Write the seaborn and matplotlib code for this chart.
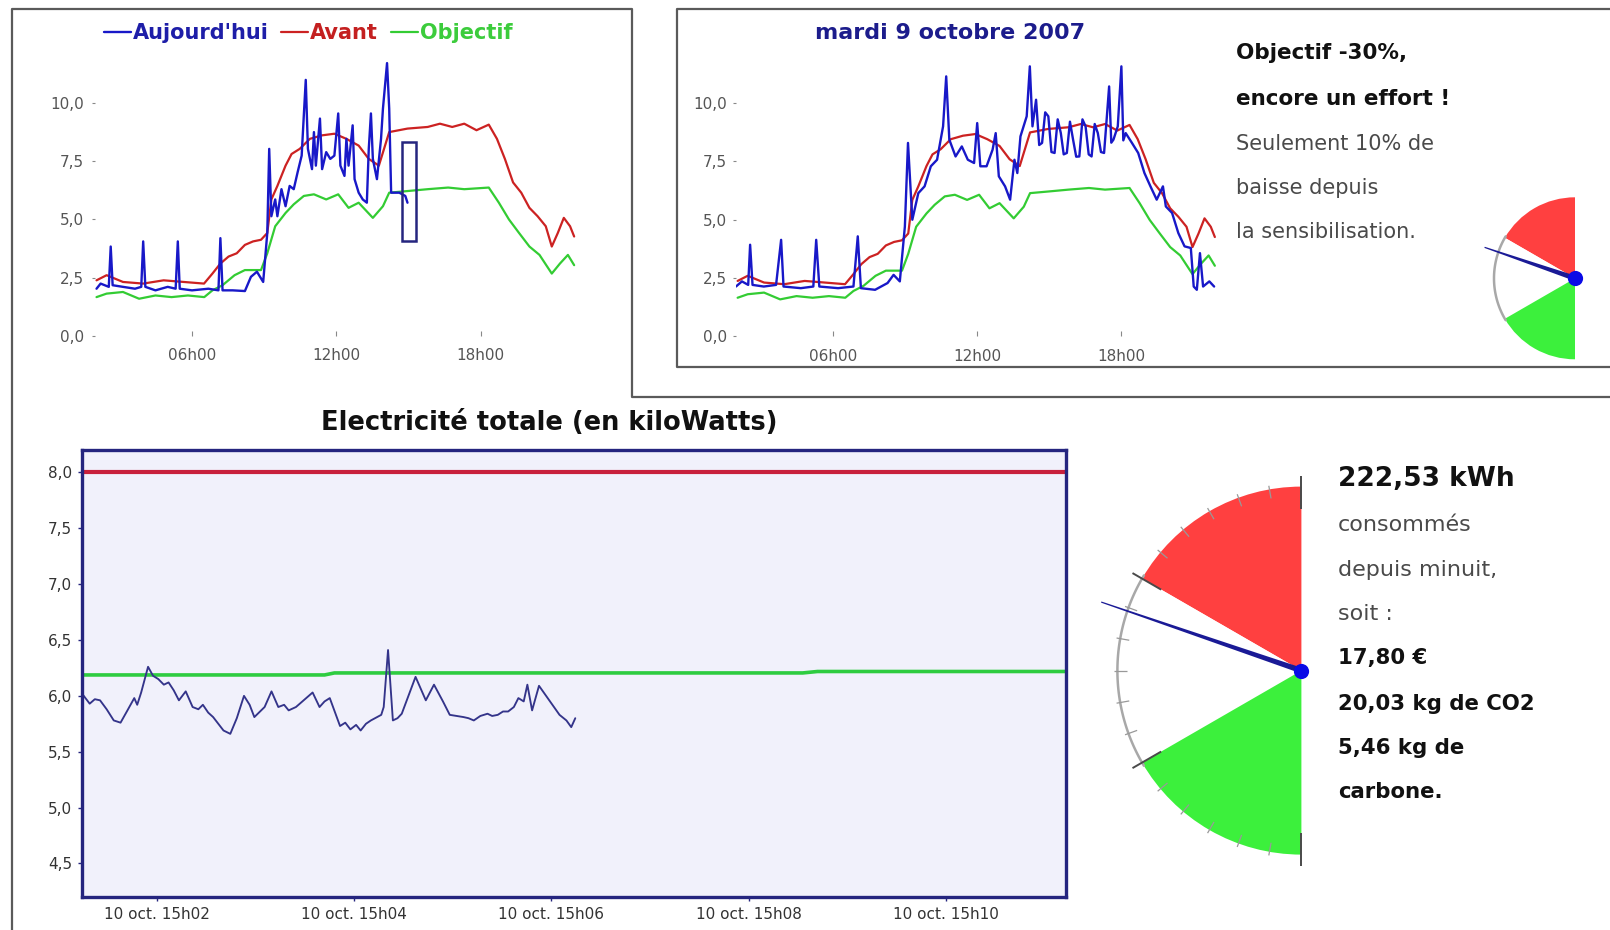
import numpy as np
import matplotlib
matplotlib.use("Agg")
import matplotlib.pyplot as plt
import seaborn as sns
from matplotlib.lines import Line2D
from matplotlib.patches import Rectangle

# ------------------------------------------------------------------ données
avant_heures = [2.03, 2.45, 3.13, 3.97, 4.82, 5.66, 6.50, 6.85, 7.18, 7.52,
                7.86, 8.20, 8.54, 8.87, 9.13, 9.30, 9.55, 9.89, 10.14, 10.48,
                10.90, 11.41, 11.92, 12.42, 12.93, 13.35, 13.77, 14.20, 14.96, 15.80,
                16.31, 16.82, 17.32, 17.83, 18.34, 18.68, 19.01, 19.35, 19.69, 20.03,
                20.37, 20.71, 20.96, 21.21, 21.46, 21.72, 21.89]
avant_kw = [2.38, 2.60, 2.31, 2.24, 2.38, 2.31, 2.24, 2.67, 3.10, 3.40,
            3.54, 3.90, 4.05, 4.12, 4.41, 5.85, 6.43, 7.30, 7.80, 8.02,
            8.45, 8.60, 8.67, 8.45, 8.16, 7.59, 7.30, 8.74, 8.89, 8.96,
            9.10, 8.96, 9.10, 8.82, 9.06, 8.45, 7.59, 6.58, 6.14, 5.49,
            5.13, 4.70, 3.83, 4.41, 5.06, 4.70, 4.26]

objectif_heures = [2.03, 2.45, 3.13, 3.80, 4.48, 5.15, 5.83, 6.51, 6.85, 7.27,
                   7.77, 8.20, 8.62, 8.87, 9.13, 9.46, 9.89, 10.23, 10.65, 11.07,
                   11.58, 12.08, 12.51, 12.93, 13.52, 13.94, 14.20, 14.96, 15.80, 16.65,
                   17.32, 18.34, 18.76, 19.18, 19.60, 20.03, 20.45, 20.96, 21.30, 21.63,
                   21.89]
objectif_kw = [1.66, 1.81, 1.88, 1.59, 1.73, 1.66, 1.73, 1.66, 1.95, 2.17,
               2.60, 2.82, 2.82, 2.82, 3.54, 4.70, 5.27, 5.64, 6.00, 6.07,
               5.85, 6.07, 5.49, 5.71, 5.06, 5.56, 6.14, 6.21, 6.29, 6.36,
               6.29, 6.36, 5.71, 4.99, 4.41, 3.83, 3.47, 2.67, 3.10, 3.47,
               3.03]

aujourdhui_heures = [2.03, 2.20, 2.54, 2.62, 2.70, 3.13, 3.63, 3.89, 3.97, 4.06,
                     4.48, 4.99, 5.32, 5.41, 5.49, 6.00, 6.68, 7.10, 7.18, 7.27,
                     7.69, 8.20, 8.45, 8.70, 8.96, 9.13, 9.21, 9.30, 9.46, 9.55,
                     9.72, 9.89, 10.06, 10.23, 10.39, 10.56, 10.65, 10.73, 10.82, 10.99,
                     11.07, 11.15, 11.32, 11.41, 11.58, 11.75, 11.92, 12.08, 12.17, 12.34,
                     12.42, 12.51, 12.68, 12.76, 12.93, 13.10, 13.27, 13.35, 13.44, 13.52,
                     13.69, 13.86, 13.94, 14.11, 14.20, 14.28, 14.62, 14.87, 14.96]
aujourdhui_kw = [2.02, 2.24, 2.10, 3.83, 2.17, 2.10, 2.02, 2.10, 4.05, 2.10,
                 1.95, 2.10, 2.02, 4.05, 2.02, 1.95, 2.02, 1.95, 4.19, 1.95,
                 1.95, 1.92, 2.53, 2.75, 2.31, 4.41, 8.02, 5.13, 5.85, 5.13,
                 6.29, 5.56, 6.43, 6.29, 7.01, 7.73, 9.47, 10.98, 8.02, 7.15,
                 8.74, 7.30, 9.32, 7.15, 7.88, 7.59, 7.73, 9.54, 7.30, 6.86,
                 8.45, 7.30, 9.03, 6.72, 6.14, 5.85, 5.71, 8.02, 9.54, 7.59,
                 6.72, 8.45, 9.75, 11.70, 9.75, 6.14, 6.14, 6.00, 5.71]

mardi_heures = [1.96, 2.21, 2.47, 2.55, 2.65, 3.12, 3.63, 3.84, 3.94, 4.66,
                5.18, 5.30, 5.43, 6.21, 6.85, 7.03, 7.16, 7.75, 8.27, 8.52,
                8.78, 8.99, 9.12, 9.30, 9.55, 9.81, 10.07, 10.33, 10.58, 10.71,
                10.84, 11.10, 11.36, 11.61, 11.87, 12.00, 12.13, 12.39, 12.64, 12.77,
                12.90, 13.16, 13.37, 13.55, 13.67, 13.80, 14.06, 14.19, 14.30, 14.45,
                14.58, 14.70, 14.83, 14.96, 15.09, 15.22, 15.35, 15.48, 15.60, 15.73,
                15.86, 15.99, 16.12, 16.25, 16.38, 16.51, 16.64, 16.76, 16.89, 17.02,
                17.15, 17.28, 17.38, 17.49, 17.58, 17.67, 17.85, 18.00, 18.08, 18.18,
                18.44, 18.70, 18.96, 19.21, 19.47, 19.73, 19.85, 20.11, 20.37, 20.63,
                20.89, 21.01, 21.14, 21.27, 21.40, 21.66, 21.86]
mardi_kw = [2.14, 2.36, 2.21, 3.93, 2.21, 2.14, 2.21, 4.14, 2.14, 2.07,
            2.14, 4.14, 2.14, 2.07, 2.14, 4.29, 2.07, 2.00, 2.29, 2.64,
            2.36, 4.71, 8.29, 5.00, 6.14, 6.43, 7.29, 7.57, 9.00, 11.14,
            8.43, 7.71, 8.14, 7.57, 7.43, 9.14, 7.29, 7.29, 8.00, 8.71,
            6.86, 6.43, 5.86, 7.57, 7.00, 8.57, 9.43, 11.57, 9.00, 10.14,
            8.20, 8.29, 9.60, 9.43, 7.90, 7.86, 9.30, 8.71, 7.80, 7.86,
            9.20, 8.43, 7.70, 7.71, 9.30, 9.00, 7.80, 7.71, 9.10, 8.71,
            7.90, 7.86, 9.20, 10.71, 8.30, 8.43, 9.00, 11.57, 8.40, 8.71,
            8.29, 7.86, 7.00, 6.43, 5.86, 6.43, 5.57, 5.29, 4.43, 3.86,
            3.79, 2.14, 2.00, 3.57, 2.14, 2.36, 2.14]

fenetre_heures = [14.73, 15.33]
fenetre_kw = [4.05, 8.30]

# zoom : minutes après 15h00 le 10 octobre
zoom_minutes = [1.249, 1.318, 1.37, 1.423, 1.49, 1.562, 1.631, 1.701, 1.770, 1.80,
                1.840, 1.910, 1.96, 2.014, 2.07, 2.118, 2.17, 2.223, 2.292, 2.362,
                2.42, 2.466, 2.52, 2.570, 2.675, 2.744, 2.81, 2.883, 2.94, 2.988,
                3.092, 3.162, 3.231, 3.29, 3.336, 3.41, 3.475, 3.579, 3.649, 3.70,
                3.753, 3.857, 3.91, 3.962, 4.02, 4.066, 4.12, 4.170, 4.275, 4.30,
                4.344, 4.393, 4.44, 4.483, 4.623, 4.727, 4.810, 4.901, 4.970, 5.04,
                5.110, 5.16, 5.214, 5.28, 5.353, 5.40, 5.457, 5.51, 5.562, 5.62,
                5.666, 5.72, 5.757, 5.805, 5.875, 5.979, 6.083, 6.153, 6.202, 6.243]
zoom_kw = [6.01, 5.93, 5.97, 5.96, 5.88, 5.78, 5.76, 5.87, 5.98, 5.92,
           6.03, 6.26, 6.18, 6.15, 6.10, 6.12, 6.05, 5.96, 6.04, 5.90,
           5.88, 5.92, 5.85, 5.81, 5.69, 5.66, 5.80, 6.00, 5.92, 5.81,
           5.90, 6.04, 5.90, 5.92, 5.87, 5.90, 5.95, 6.03, 5.90, 5.95,
           5.98, 5.73, 5.76, 5.70, 5.74, 5.69, 5.75, 5.78, 5.83, 5.90,
           6.41, 5.78, 5.80, 5.84, 6.17, 5.96, 6.10, 5.95, 5.83, 5.82,
           5.81, 5.80, 5.78, 5.82, 5.84, 5.82, 5.83, 5.86, 5.86, 5.90,
           5.98, 5.95, 6.10, 5.87, 6.09, 5.96, 5.83, 5.78, 5.72, 5.80]
zoom_avant_minutes = [1.24, 11.22]
zoom_avant_kw = [8.0, 8.0]
zoom_objectif_minutes = [1.24, 3.70, 3.80, 8.55, 8.70, 11.22]
zoom_objectif_kw = [6.187, 6.187, 6.205, 6.205, 6.218, 6.218]

heure_ticks = [6, 12, 18]
heure_labels = ["06h00", "12h00", "18h00"]
kw_ticks = [0, 2.5, 5, 7.5, 10]
kw_labels = ["0,0", "2,5", "5,0", "7,5", "10,0"]
minute_ticks = [2, 4, 6, 8, 10]
minute_labels = ["10 oct. 15h02", "10 oct. 15h04", "10 oct. 15h06",
                 "10 oct. 15h08", "10 oct. 15h10"]
zoom_kw_ticks = [4.5, 5.0, 5.5, 6.0, 6.5, 7.0, 7.5, 8.0]
zoom_kw_labels = ["4,5", "5,0", "5,5", "6,0", "6,5", "7,0", "7,5", "8,0"]

series_labels = ["Aujourd'hui", "Avant", "Objectif"]
titre_jour = "mardi 9 octobre 2007"
titre_zoom = "Electricité totale (en kiloWatts)"
info_lignes = ["Objectif -30%,", "encore un effort !", "Seulement 10% de",
               "baisse depuis", "la sensibilisation."]
bilan_lignes = ["222,53 kWh", "consommés", "depuis minuit,", "soit :",
                "17,80 €", "20,03 kg de CO2", "5,46 kg de", "carbone."]

jauge_zones = [60, 60, 60]          # rouge, neutre, vert (degrés)
jauge_aiguille = 0.605              # position (fraction de la demi-jauge)

# ------------------------------------------------------------------ style
sns.set_theme(style="white")
plt.rcParams["font.family"] = ["DejaVu Sans"]

BLEU = "#1818c8"
ROUGE = "#cc2222"
VERT = "#33cc33"
NAVY = "#25257f"
GRIS = "#4a4a4a"

W, H = 1610, 930
fig = plt.figure(figsize=(W / 100, H / 100), dpi=100)
fig.patch.set_facecolor("white")


def rect(l, t, r, b):
    return [l / W, 1 - b / H, (r - l) / W, (b - t) / H]


def pt(x, y):
    return (x / W, 1 - y / H)


# ------------------------------------------------------------------ cadres
cadre = dict(color="#5a5a5a", lw=1.6, transform=fig.transFigure)
fig.add_artist(Line2D([12 / W, 12 / W, 631.7 / W, 631.7 / W, 1.0],
                      [0.0, 1 - 9.3 / H, 1 - 9.3 / H, 1 - 397 / H, 1 - 397 / H], **cadre))
fig.add_artist(Line2D([1.0, 677 / W, 677 / W, 1.0],
                      [1 - 9.3 / H, 1 - 9.3 / H, 1 - 366.7 / H, 1 - 366.7 / H], **cadre))


# ------------------------------------------------------------------ petits graphiques
def petit_graphique(ax, bleu_h, bleu_kw, tick_pad):
    sns.lineplot(x=objectif_heures, y=objectif_kw, color=VERT, lw=1.6, ax=ax,
                 estimator=None, sort=False)
    sns.lineplot(x=avant_heures, y=avant_kw, color=ROUGE, lw=1.6, ax=ax,
                 estimator=None, sort=False)
    sns.lineplot(x=bleu_h, y=bleu_kw, color=BLEU, lw=1.7, ax=ax,
                 estimator=None, sort=False)
    ax.set_xlim(1.95, 22.1)
    ax.set_ylim(0, 12)
    ax.set_xticks(heure_ticks, heure_labels)
    ax.set_yticks(kw_ticks, kw_labels)
    for s in ax.spines.values():
        s.set_visible(False)
    ax.tick_params(axis="x", bottom=True, direction="in", length=3.5, width=0.8,
                   color="#888888", pad=9, labelsize=11, labelcolor="#555555")
    ax.tick_params(axis="y", left=True, direction="out", length=2, width=0.8,
                   color="#888888", pad=tick_pad, labelsize=11, labelcolor="#555555")
    ax.set_xlabel("")
    ax.set_ylabel("")
    ax.patch.set_alpha(0)


ax1 = fig.add_axes(rect(94.6, 56.1, 579.2, 335.8))
petit_graphique(ax1, aujourdhui_heures, aujourdhui_kw, 5.5)
ax1.add_patch(Rectangle((fenetre_heures[0], fenetre_kw[0]),
                        fenetre_heures[1] - fenetre_heures[0],
                        fenetre_kw[1] - fenetre_kw[0],
                        fill=False, ec=NAVY, lw=1.8, zorder=5))
lignes = ax1.get_lines()
leg = fig.legend([lignes[2], lignes[1], lignes[0]], series_labels, loc="center",
                 bbox_to_anchor=pt(308, 33), ncol=3, frameon=False, handlelength=1.3,
                 handletextpad=0.1, columnspacing=0.6,
                 prop={"weight": "bold", "size": 15})
for t, c in zip(leg.get_texts(), ["#1e1ea8", "#c42020", "#3ccc3c"]):
    t.set_color(c)

ax2 = fig.add_axes(rect(735.7, 56.3, 1219.9, 336.5))
petit_graphique(ax2, mardi_heures, mardi_kw, 4.5)
fig.text(*pt(950, 33), titre_jour, ha="center", va="center", fontsize=16,
         fontweight="bold", color="#1c1c8c")

for i, txt in enumerate(info_lignes):
    y = [53.4, 98.6, 143.8, 188.0, 232.0][i]
    gras = i < 2
    fig.text(*pt(1235.5, y), txt, ha="left", va="center",
             fontsize=15.5 if gras else 15, fontweight="bold" if gras else "normal",
             color="#111111" if gras else GRIS)

# ------------------------------------------------------------------ graphique zoom
ax3 = fig.add_axes(rect(82, 450, 1066, 897))
ax3.set_facecolor("#f1f1fb")
sns.lineplot(x=zoom_avant_minutes, y=zoom_avant_kw, color="#c8203c", lw=3, ax=ax3,
             estimator=None, sort=False)
sns.lineplot(x=zoom_objectif_minutes, y=zoom_objectif_kw, color="#2ecc40", lw=2.6, ax=ax3,
             estimator=None, sort=False)
sns.lineplot(x=zoom_minutes, y=zoom_kw, color="#34348a", lw=1.35, ax=ax3,
             estimator=None, sort=False)
ax3.set_xlim(1.24, 11.22)
ax3.set_ylim(4.2, 8.2)
ax3.set_xticks(minute_ticks, minute_labels)
ax3.set_yticks(zoom_kw_ticks, zoom_kw_labels)
for s in ax3.spines.values():
    s.set_visible(True)
    s.set_color(NAVY)
    s.set_linewidth(2.4)
ax3.tick_params(axis="both", bottom=True, left=True, direction="out", length=3,
                width=1, color=NAVY, labelsize=11, labelcolor="#333333")
ax3.tick_params(axis="x", pad=4)
ax3.tick_params(axis="y", pad=4)
ax3.set_xlabel("")
ax3.set_ylabel("")
fig.text(*pt(549.5, 423), titre_zoom, ha="center", va="center", fontsize=18.5,
         fontweight="bold", color="#111111")


# ------------------------------------------------------------------ jauges
def jauge(box, cx, cy, r, graduations, long_aiguille, larg):
    l, t, rr, b = box
    ax = fig.add_axes(rect(l, t, rr, b))
    ax.pie(jauge_zones + [360 - sum(jauge_zones)],
           colors=["#ff4040", "white", "#3cf03c", (1, 1, 1, 0)],
           startangle=90, counterclock=True, radius=1, center=(0, 0),
           wedgeprops={"linewidth": 0})
    ax.set_aspect("auto")
    ax.set_xlim((l - cx) / r, (rr - cx) / r)
    ax.set_ylim((cy - b) / r, (cy - t) / r)
    ax.axis("off")
    a0 = np.radians(90 + jauge_zones[0])
    a1 = np.radians(90 + jauge_zones[0] + jauge_zones[1])
    arc = np.linspace(a0 - 0.02, a1 + 0.02, 60)
    ax.plot(np.cos(arc), np.sin(arc), color="#a8a8a8", lw=1.8, zorder=3)
    if graduations:
        bornes = np.cumsum([90] + jauge_zones)
        for ang in np.arange(90, 271, 10):
            a = np.radians(ang)
            if ang in bornes:
                r0, r1, c, w = 0.88, 1.06, "#4a4a4a", 1.4
            else:
                r0, r1, c, w = 0.95, 1.02, "#999999", 0.9
            ax.plot([r0 * np.cos(a), r1 * np.cos(a)], [r0 * np.sin(a), r1 * np.sin(a)],
                    color=c, lw=w, zorder=4, solid_capstyle="butt")
    ang = np.radians(270 - 180 * jauge_aiguille)
    d = np.array([np.cos(ang), np.sin(ang)])
    p = np.array([-d[1], d[0]])
    w0, w1 = larg / r, 0.6 / r
    tip = d * long_aiguille
    xs = [p[0] * w0, tip[0] + p[0] * w1, tip[0] - p[0] * w1, -p[0] * w0]
    ys = [p[1] * w0, tip[1] + p[1] * w1, tip[1] - p[1] * w1, -p[1] * w0]
    ax.fill(xs, ys, color="#1a1a96", zorder=6, lw=0)
    ax.scatter([0], [0], s=120, color="#0a0ae6", zorder=7, linewidths=0)
    return ax


jauge((1090, 455, 1335, 890), 1301.4, 670.6, 184, True, 1.15, 2.8)
jauge((1465, 185, 1610, 362), 1575, 278.3, 81, False, 1.18, 2.6)

for i, txt in enumerate(bilan_lignes):
    y = [478.6, 524.8, 570.0, 614.0, 658.3, 703.5, 747.7, 791.8][i]
    if i == 0:
        kw = dict(fontsize=19, fontweight="bold", color="#111111")
    elif i < 4:
        kw = dict(fontsize=16, fontweight="normal", color=GRIS)
    else:
        kw = dict(fontsize=15.3, fontweight="bold", color="#111111")
    fig.text(*pt(1338, y), txt, ha="left", va="center", **kw)

fig.savefig("out.png", dpi=100, facecolor="white")
